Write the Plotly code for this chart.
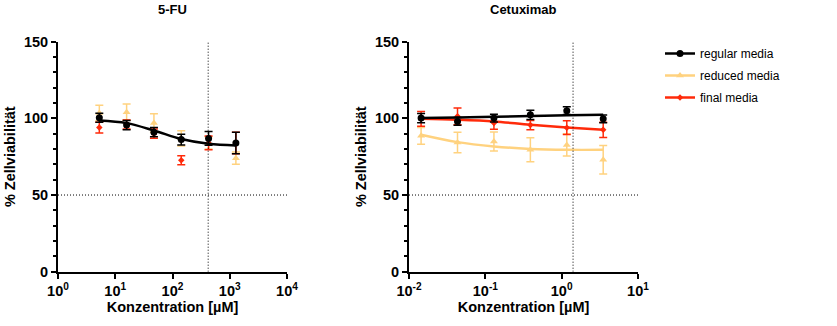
import plotly.graph_objects as go

# ---------------- data ----------------
series_names = ["regular media", "reduced media", "final media"]
series_colors = ["#000000", "#FFD27F", "#FF2A0A"]

# 5-FU panel
conc_5fu = [5.27, 15.8, 47.4, 142.2, 426.7, 1280]
fu_regular = [100.4, 95.6, 91.0, 86.2, 86.9, 83.9]
fu_regular_err = [3.0, 3.0, 3.0, 3.5, 4.5, 7.0]
fu_reduced = [103.5, 104.0, 97.0, 87.0, 84.0, 74.0]
fu_reduced_err = [5.0, 5.3, 6.0, 5.0, 4.0, 4.0]
fu_final = [94.0, 96.0, 90.0, 72.7, 84.0, 84.0]
fu_final_err = [3.5, 3.0, 3.0, 3.0, 4.5, 7.0]
fu_fit_regular = [98.6, 96.9, 92.1, 86.5, 83.4, 82.3]
cmax_5fu = 420

# Cetuximab panel
conc_cet = [0.0144, 0.0432, 0.1296, 0.389, 1.167, 3.5]
cet_regular = [100.2, 98.0, 100.2, 102.3, 105.0, 99.7]
cet_regular_err = [3.0, 2.5, 2.5, 3.0, 2.5, 2.5]
cet_reduced = [88.6, 84.3, 84.9, 79.5, 82.7, 73.0]
cet_reduced_err = [5.5, 6.7, 6.2, 7.8, 7.3, 9.3]
cet_final = [99.7, 101.3, 96.9, 95.6, 93.9, 92.5]
cet_final_err = [4.8, 5.5, 4.0, 3.0, 4.5, 5.0]
cet_fit_regular = [100.3, 100.6, 101.0, 101.5, 102.0, 102.3]
cet_fit_reduced = [89.3, 84.5, 81.7, 80.1, 79.5, 79.5]
cet_fit_final = [99.7, 99.1, 98.0, 95.8, 94.0, 92.5]
cmax_cet = 1.41

fu_ticks = [1, 10, 100, 1000, 10000]
fu_ticktext = ["10<sup>0</sup>", "10<sup>1</sup>", "10<sup>2</sup>", "10<sup>3</sup>", "10<sup>4</sup>"]
cet_ticks = [0.01, 0.1, 1, 10]
cet_ticktext = ["10<sup>-2</sup>", "10<sup>-1</sup>", "10<sup>0</sup>", "10<sup>1</sup>"]
y_ticks = [0, 50, 100, 150]

FONT = "Liberation Sans, Arial, sans-serif"
markers = ["circle", "triangle-up", "diamond"]
msizes = [7, 7, 5]

fig = go.Figure()

def add_points(x, y, err, idx, xa, ya):
    fig.add_trace(go.Scatter(
        x=x, y=y, mode="markers", xaxis=xa, yaxis=ya, showlegend=False,
        marker=dict(color=series_colors[idx], symbol=markers[idx], size=msizes[idx]),
        error_y=dict(type="data", array=err, visible=True, color=series_colors[idx],
                     thickness=1.5, width=4),
        cliponaxis=False))

def add_line(x, y, idx, xa, ya):
    fig.add_trace(go.Scatter(
        x=x, y=y, mode="lines", xaxis=xa, yaxis=ya, showlegend=False,
        line=dict(color=series_colors[idx], width=2.5, shape="spline")))

# left panel: reduced, final, regular
add_points(conc_5fu, fu_reduced, fu_reduced_err, 1, "x", "y")
add_points(conc_5fu, fu_final, fu_final_err, 2, "x", "y")
add_points(conc_5fu, fu_regular, fu_regular_err, 0, "x", "y")
add_line(conc_5fu, fu_fit_regular, 0, "x", "y")

# right panel
add_points(conc_cet, cet_reduced, cet_reduced_err, 1, "x2", "y2")
add_line(conc_cet, cet_fit_reduced, 1, "x2", "y2")
add_points(conc_cet, cet_final, cet_final_err, 2, "x2", "y2")
add_line(conc_cet, cet_fit_final, 2, "x2", "y2")
add_points(conc_cet, cet_regular, cet_regular_err, 0, "x2", "y2")
add_line(conc_cet, cet_fit_regular, 0, "x2", "y2")

# legend entries
for i, name in enumerate(series_names):
    fig.add_trace(go.Scatter(
        x=[None], y=[None], mode="lines+markers", name=name, legendgroup=name,
        xaxis="x2", yaxis="y2",
        line=dict(color=series_colors[i], width=2.5),
        marker=dict(color=series_colors[i], symbol=markers[i], size=msizes[i])))

ydom = [54.3 / 326, 284.3 / 326]
axis_common = dict(showline=True, linecolor="black", linewidth=2, ticks="outside",
                   ticklen=5, tickwidth=1.5, tickcolor="black", showgrid=False,
                   zeroline=False, mirror=False, automargin=False,
                   tickfont=dict(family=FONT, size=14.5, color="black", weight="bold"))
title_font = dict(family=FONT, size=14.5, weight="bold", color="black")

fig.update_layout(
    width=837, height=326, margin=dict(l=0, r=0, t=0, b=0, autoexpand=False),
    paper_bgcolor="white", plot_bgcolor="white",
    font=dict(family=FONT, color="black"),
    xaxis=dict(domain=[58 / 837, 287 / 837], type="log", range=[0, 4],
               tickvals=fu_ticks, ticktext=fu_ticktext, anchor="y",
               title=dict(text="Konzentration [µM]", standoff=4, font=title_font),
               **axis_common),
    yaxis=dict(domain=ydom, range=[0, 150], tickvals=y_ticks, anchor="x",
               minor=dict(dtick=10, ticks="outside", ticklen=3, tickwidth=1.5, tickcolor="black"),
               title=dict(text="% Zellviabilität", standoff=5, font=title_font),
               **axis_common),
    xaxis2=dict(domain=[409 / 837, 638 / 837], type="log", range=[-2, 1],
                tickvals=cet_ticks, ticktext=cet_ticktext, anchor="y2",
                title=dict(text="Konzentration [µM]", standoff=4, font=title_font),
                **axis_common),
    yaxis2=dict(domain=ydom, range=[0, 150], tickvals=y_ticks, anchor="x2",
                minor=dict(dtick=10, ticks="outside", ticklen=3, tickwidth=1.5, tickcolor="black"),
                title=dict(text="% Zellviabilität", standoff=5, font=title_font),
                **axis_common),
    legend=dict(x=660 / 837, y=(326 - 39) / 326, xanchor="left", yanchor="top",
                font=dict(family=FONT, size=12, color="black"), itemwidth=30,
                tracegroupgap=3, bgcolor="rgba(0,0,0,0)"),
)

# reference lines
for xa, ya, cm, xr in [("x", "y", cmax_5fu, (1, 10000)), ("x2", "y2", cmax_cet, (0.01, 10))]:
    fig.add_shape(type="line", xref=xa, yref=ya, x0=cm, x1=cm, y0=0, y1=150,
                  line=dict(color="black", width=1, dash="1px,2px"))
    fig.add_shape(type="line", xref=xa, yref=ya, x0=xr[0], x1=xr[1], y0=50, y1=50,
                  line=dict(color="black", width=1, dash="1px,2px"))
    fig.add_annotation(x=cm, y=150, xref=xa, yref=ya, text="Cmax", showarrow=False,
                       yanchor="middle", yshift=10,
                       font=dict(family=FONT, size=15, weight="bold", color="black"))

for xa, title in [("x", "5-FU"), ("x2", "Cetuximab")]:
    fig.add_annotation(x=0.5, y=1, xref=xa + " domain", yref="y domain", text=title,
                       showarrow=False, yanchor="middle", yshift=32,
                       font=dict(family=FONT, size=13, weight="bold", color="black"))

fig.write_html("out.html")
